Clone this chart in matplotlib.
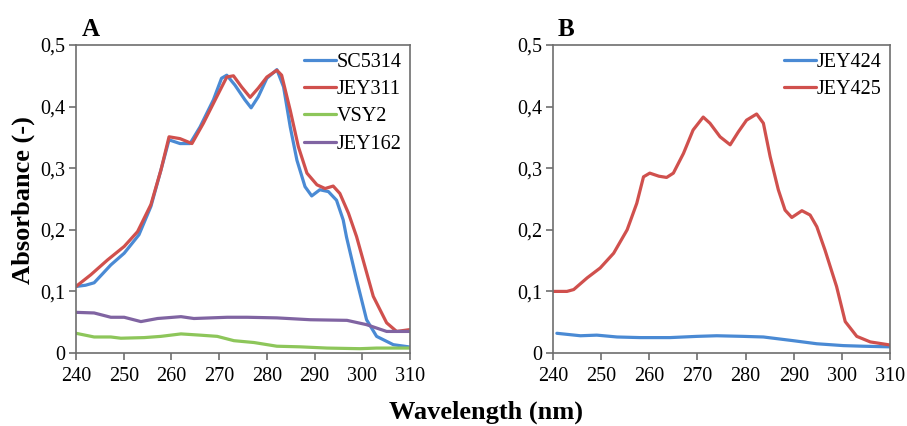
import matplotlib
matplotlib.use("Agg")
import matplotlib.pyplot as plt
from matplotlib import font_manager as fm

_names = {f.name for f in fm.fontManager.ttflist}
_serif = [n for n in ['Liberation Serif', 'Times New Roman', 'Nimbus Roman', 'DejaVu Serif'] if n in _names]
plt.rcParams['font.family'] = 'serif'
plt.rcParams['font.serif'] = _serif + ['DejaVu Serif']

# Panel A data
sc5314_x = [240, 242, 243.8, 245.5, 247.3, 250.1, 253.2, 255.7, 257.8, 259.5, 261.8, 263.9, 266.0, 268.8,
            270.5, 271.6, 273.3, 275.4, 276.7, 278.2, 280.0, 282.1, 283.5, 284.9, 286.3, 288.0, 289.4,
            291.1, 292.9, 294.6, 296.0, 296.7, 298.8, 300.9, 303, 306.5, 310]
sc5314_y = [0.108, 0.110, 0.114, 0.128, 0.143, 0.162, 0.192, 0.238, 0.297, 0.346, 0.340, 0.340, 0.367, 0.411,
            0.446, 0.451, 0.435, 0.411, 0.398, 0.416, 0.446, 0.460, 0.432, 0.367, 0.313, 0.270, 0.255,
            0.265, 0.262, 0.248, 0.216, 0.188, 0.119, 0.054, 0.027, 0.0135, 0.0097]

jey311_x = [240, 243.1, 246.6, 250.1, 252.9, 255.7, 257.8, 259.5, 261.8, 264.3, 266.7, 269.5, 271.6, 273.0,
            274.7, 276.5, 278.2, 280.0, 282.1, 283.1, 284.9, 286.6, 288.4, 290.5, 292.2, 293.9, 295.3,
            297.1, 298.8, 302.3, 305.1, 307.2, 310]
jey311_y = [0.108, 0.127, 0.151, 0.173, 0.197, 0.241, 0.297, 0.351, 0.348, 0.340, 0.373, 0.416, 0.448, 0.450,
            0.432, 0.415, 0.430, 0.448, 0.459, 0.451, 0.394, 0.335, 0.292, 0.273, 0.267, 0.271, 0.259,
            0.227, 0.189, 0.092, 0.049, 0.035, 0.038]

vsy2_x = [240, 243.8, 247.3, 249.4, 254.3, 257.8, 262, 266, 269.6, 273.1, 277.3, 282.1, 287, 292.6, 299.5, 303, 310]
vsy2_y = [0.032, 0.026, 0.026, 0.024, 0.025, 0.027, 0.031, 0.029, 0.027, 0.020, 0.017, 0.011, 0.010, 0.008,
          0.007, 0.008, 0.008]

jey162_x = [240, 243.8, 247.3, 250.1, 253.6, 257.1, 262, 264.7, 271.7, 275.9, 282.1, 289.1, 296.8, 300.9, 305.1, 310]
jey162_y = [0.066, 0.065, 0.058, 0.058, 0.051, 0.056, 0.059, 0.056, 0.058, 0.058, 0.057, 0.054, 0.053, 0.046,
            0.035, 0.035]

# Panel B data
jey425_x = [240, 242.9, 244.3, 247.1, 249.8, 252.6, 255.4, 257.4, 258.8, 260.1, 262.0, 263.6, 265.0, 267.1,
            269.1, 271.2, 272.6, 274.7, 276.8, 278.5, 280.2, 282.3, 283.7, 285.1, 286.8, 288.2, 289.6,
            291.7, 293.4, 294.8, 296.5, 298.9, 300.7, 303.1, 305.9, 310]
jey425_y = [0.100, 0.100, 0.103, 0.122, 0.138, 0.162, 0.200, 0.243, 0.286, 0.292, 0.287, 0.285, 0.292, 0.324,
            0.362, 0.383, 0.373, 0.351, 0.338, 0.359, 0.378, 0.388, 0.373, 0.319, 0.265, 0.232, 0.220,
            0.231, 0.224, 0.205, 0.167, 0.108, 0.051, 0.027, 0.018, 0.013]

jey424_x = [240.8, 245.7, 249.1, 253.3, 258.1, 264.3, 269.9, 274, 279.5, 283.7, 289.9, 294.8, 300.3, 304.4, 310]
jey424_y = [0.032, 0.028, 0.029, 0.026, 0.025, 0.025, 0.027, 0.028, 0.027, 0.026, 0.020, 0.015, 0.012, 0.011, 0.010]

xticks = [240, 250, 260, 270, 280, 290, 300, 310]
yticks = [0, 0.1, 0.2, 0.3, 0.4, 0.5]
ytick_labels = ['0', '0,1', '0,2', '0,3', '0,4', '0,5']

BLUE = '#4a8ad4'
RED = '#d0504d'
GREEN = '#8dc65a'
PURPLE = '#8064a2'

fig = plt.figure(figsize=(9.07, 4.26), dpi=100)
W, H = 907, 426
axA = fig.add_axes([76 / W, 1 - 353 / H, 334 / W, 308 / H])
axB = fig.add_axes([553 / W, 1 - 353 / H, 337 / W, 308 / H])


def style(ax):
    ax.set_xlim(240, 310)
    ax.set_ylim(0, 0.5)
    ax.set_xticks(xticks)
    ax.set_xticklabels([str(t) for t in xticks])
    ax.set_yticks(yticks)
    ax.set_yticklabels(ytick_labels)
    for s in ax.spines.values():
        s.set_color('#6e6e6e')
        s.set_linewidth(1.2)
    ax.tick_params(direction='out', length=5, width=1.2, color='#6e6e6e',
                   labelsize=14.5, labelcolor='black', pad=3)
    ax.tick_params(axis='x', pad=5)


lw = 2.3
common = dict(lw=lw, solid_joinstyle='round', solid_capstyle='round')
axA.plot(sc5314_x, sc5314_y, color=BLUE, label='SC5314', **common)
axA.plot(jey311_x, jey311_y, color=RED, label='JEY311', **common)
axA.plot(vsy2_x, vsy2_y, color=GREEN, label='VSY2', **common)
axA.plot(jey162_x, jey162_y, color=PURPLE, label='JEY162', **common)
style(axA)

axB.plot(jey424_x, jey424_y, color=BLUE, label='JEY424', **common)
axB.plot(jey425_x, jey425_y, color=RED, label='JEY425', **common)
style(axB)

for ax in (axA, axB):
    ax.legend(loc='upper right', frameon=False, fontsize=14.5, handlelength=1.6,
              handletextpad=0.05, labelspacing=0.4, borderaxespad=0.2, borderpad=0.2)

fig.text(82 / W, 1 - 36 / H, 'A', fontsize=18, fontweight='bold', ha='left', va='baseline')
fig.text(558 / W, 1 - 36 / H, 'B', fontsize=18, fontweight='bold', ha='left', va='baseline')
fig.text(23 / W, 1 - 200 / H, 'Absorbance (-)', fontsize=19, fontweight='bold', rotation=90,
         ha='center', va='center')
fig.text(486 / W, 1 - 412 / H, 'Wavelength (nm)', fontsize=19, fontweight='bold', ha='center', va='center')

fig.savefig('out.png', dpi=100)
